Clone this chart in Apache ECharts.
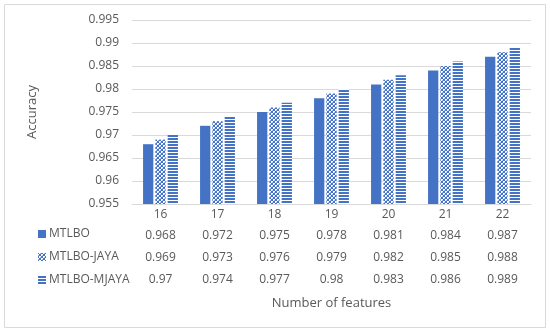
<!DOCTYPE html>
<html><head><meta charset="utf-8">
<script src="https://cdn.jsdelivr.net/npm/echarts@6/dist/echarts.min.js"></script>
<style>html,body{margin:0;padding:0;background:#fff}#c{width:550px;height:332px}</style>
</head><body><div id="c"></div>
<script>
var categories = ['16','17','18','19','20','21','22'];
var seriesNames = ['MTLBO','MTLBO-JAYA','MTLBO-MJAYA'];
var mtlbo = [0.968,0.972,0.975,0.978,0.981,0.984,0.987];
var mtlboJaya = [0.969,0.973,0.976,0.979,0.982,0.985,0.988];
var mtlboMjaya = [0.97,0.974,0.977,0.98,0.983,0.986,0.989];
var yTicks = {min:0.955, max:0.995, interval:0.005};

var BLUE = '#4472C4';
function makeTile(w,h,fn){
  var c=document.createElement('canvas');c.width=w;c.height=h;
  var ctx=c.getContext('2d');ctx.fillStyle='#ffffff';ctx.fillRect(0,0,w,h);
  fn(ctx);return c;
}
var crossTile = makeTile(4,4,function(ctx){
  ctx.fillStyle=BLUE;
  for(var i=0;i<4;i++){ctx.fillRect(i,i,1,1);ctx.fillRect(3-i,i,1,1);}
  ctx.fillStyle='#a9bde4';
  ctx.fillRect(0,2,1,1);ctx.fillRect(2,0,1,1);
});
var stripeTile = makeTile(4,3,function(ctx){
  ctx.fillStyle=BLUE;ctx.fillRect(0,0,4,2);
});
var colors = [BLUE, {image:crossTile, repeat:'repeat'}, {image:stripeTile, repeat:'repeat'}];
var values = [mtlbo, mtlboJaya, mtlboMjaya];

var FONT = 'Open Sans';
var TXT = '#595959';
var chart = echarts.init(document.getElementById('c'), null, {renderer:'canvas'});
var fmt = function(v){return String(+(+v).toFixed(3));};

var xAxes = [{
  type:'category', data:categories, gridIndex:0, position:'bottom',
  axisLine:{lineStyle:{color:'#d9d9d9'}}, axisTick:{show:false},
  axisLabel:{color:TXT, fontFamily:FONT, fontSize:12, margin:5}
}];
for (var k=0;k<3;k++){
  xAxes.push({
    type:'category', data:values[k].map(fmt), gridIndex:0, position:'bottom',
    offset:21+22*k,
    axisLine:{show:false}, axisTick:{show:false},
    axisLabel:{color:TXT, fontFamily:FONT, fontSize:12, margin:5},
    name: k===2 ? 'Number of features' : '',
    nameLocation:'middle', nameGap:28,
    nameTextStyle:{color:TXT, fontFamily:FONT, fontSize:13}
  });
}

chart.setOption({
  animation:false,
  backgroundColor:'#fff',
  grid:{left:132, right:19, top:20, bottom:128},
  legend:{
    orient:'vertical', left:33, top:223, itemWidth:8, itemHeight:8, itemGap:11,
    icon:'rect', data:seriesNames,
    textStyle:{color:TXT, fontFamily:FONT, fontSize:12, padding:[0,0,0,-2]}
  },
  xAxis:xAxes,
  yAxis:{
    type:'value', min:yTicks.min, max:yTicks.max, interval:yTicks.interval,
    name:'Accuracy', nameLocation:'middle', nameGap:93, nameRotate:90,
    nameTextStyle:{color:TXT, fontFamily:FONT, fontSize:13},
    axisLine:{show:false}, axisTick:{show:false},
    axisLabel:{color:TXT, fontFamily:FONT, fontSize:12, margin:13, formatter:fmt},
    splitLine:{lineStyle:{color:'#d9d9d9'}}
  },
  series: seriesNames.map(function(n,i){
    return {name:n, type:'bar', xAxisIndex:0, data:values[i],
      barWidth:'18%', barGap:'20%',
      itemStyle:{color:colors[i]}};
  }),
  graphic:[{type:'rect', shape:{x:4.5,y:4.5,width:541,height:323},
    style:{fill:null, stroke:'#d9d9d9', lineWidth:1}, silent:true}]
});
</script></body></html>
